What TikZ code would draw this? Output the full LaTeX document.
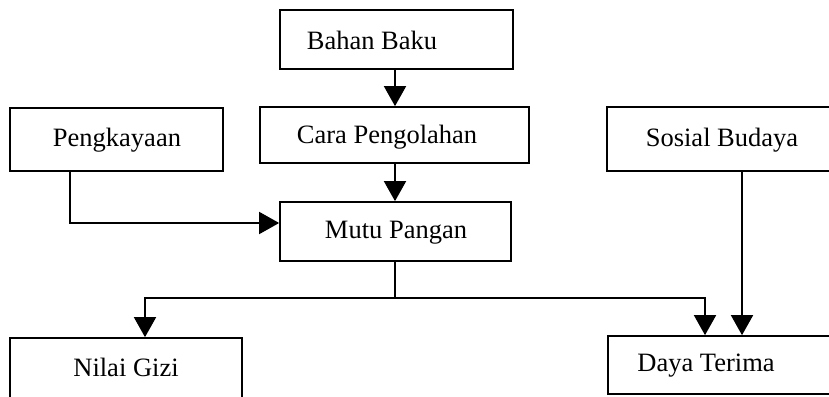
\documentclass[tikz,border=0pt]{standalone}
\usepackage{fontspec}
\setmainfont{Liberation Serif}
\usetikzlibrary{arrows.meta}
\tikzset{
  box/.style={draw, line width=1.7pt, rectangle, inner sep=0pt},
  txt/.style={inner sep=0pt, font=\fontsize{26.5}{30}\selectfont},
  arr/.style={line width=1.7pt, -{Triangle[width=22pt,length=20pt]}},
  conn/.style={line width=1.7pt}
}
\begin{document}
\begin{tikzpicture}[x=1pt,y=-1pt]
\useasboundingbox (0,0) rectangle (829,396);
\clip (0,0) rectangle (829,396);
\fill[white] (0,0) rectangle (829,396);
% boxes
\node[box, minimum width=233pt, minimum height=59pt] (bahan) at (396.5,39.5) {};
\node[box, minimum width=269pt, minimum height=56pt] (cara) at (394.5,135) {};
\node[box, minimum width=213pt, minimum height=63pt] (peng) at (116.5,139.5) {};
\node[box, minimum width=233pt, minimum height=64pt] (sosial) at (723.5,139) {};
\node[box, minimum width=231pt, minimum height=59pt] (mutu) at (395.5,231.5) {};
\node[box, minimum width=232pt, minimum height=66pt] (nilai) at (126,371) {};
\node[box, minimum width=232pt, minimum height=58pt] (daya) at (724,365) {};
% texts
\node[txt] (bahanT) at (372,40) {Bahan Baku};
\node[txt] (caraT) at (387,137) {Cara Pengolahan};
\node[txt] (pengT) at (117,140) {Pengkayaan};
\node[txt] (sosialT) at (722,140) {Sosial Budaya};
\node[txt] (mutuT) at (396,233) {Mutu Pangan};
\node[txt] (nilaiT) at (126,367) {Nilai Gizi};
\node[txt] (dayaT) at (706,366) {Daya Terima};
% helper coordinates
\coordinate (cx) at (395,0);
\coordinate (px) at (70,223);
\coordinate (join) at (395,298);
\coordinate (nx) at (145,0);
\coordinate (dx) at (705,0);
\coordinate (sx) at (742,0);
% connectors
\draw[arr] (bahan.south -| cx) -- (cara.north -| cx);
\draw[arr] (cara.south -| cx) -- (mutu.north -| cx);
\draw[arr] (peng.south -| px) |- (mutu.west |- px);
\draw[conn] (mutu.south -| join) -- (join);
\draw[arr] (join) -| (nilai.north -| nx);
\draw[arr] (join) -| (daya.north -| dx);
\draw[arr] (sosial.south -| sx) -- (daya.north -| sx);
\end{tikzpicture}
\end{document}
